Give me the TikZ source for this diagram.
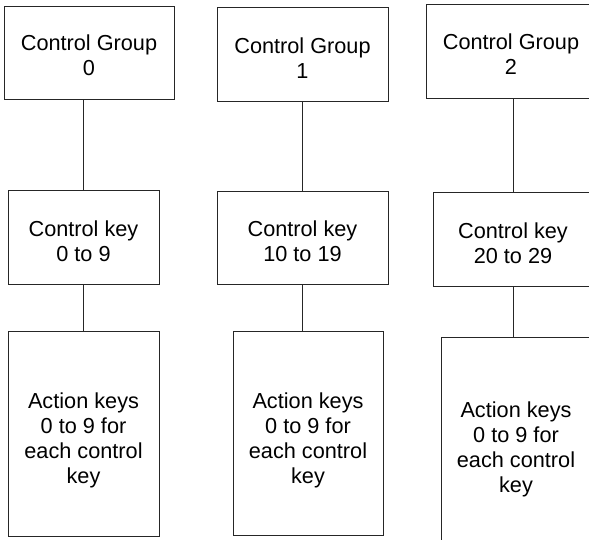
\documentclass[tikz,border=0pt]{standalone}
\usepackage{fontspec}
\setmainfont{Liberation Sans}
\usetikzlibrary{positioning}

\begin{document}
\begin{tikzpicture}[x=1pt,y=-1pt,
  box/.style={draw=black!85,line width=0.9pt,inner sep=0pt},
  txt/.style={inner sep=0pt,align=center,font=\fontsize{21.7}{25}\selectfont},
  link/.style={draw=black!85,line width=0.9pt}]
\fill[white] (0,0) rectangle (589,539);
\useasboundingbox (0,0) rectangle (589,539);
\clip (0,0) rectangle (589,539);
% first column
\node[box,minimum width=170pt,minimum height=93pt,
  label={[txt,yshift=-3pt]center:{Control Group\\0}}] (grp0) at (89,52.5) {};
\node[box,minimum width=151pt,minimum height=94pt,
  label={[txt,yshift=-4pt]center:{Control key\\0 to 9}}] (key0) at (83.5,237) {};
\node[box,minimum width=151pt,minimum height=205pt,
  label={[txt,yshift=-7pt]center:{Action keys\\0 to 9 for\\each control\\key}}] (act0) at (83.5,433.5) {};
% second column
\node[box,minimum width=171pt,minimum height=94pt,
  label={[txt,yshift=-4pt]center:{Control Group\\1}}] (grp1) at (302.5,54) {};
\node[box,minimum width=171pt,minimum height=93pt,
  label={[txt,yshift=-4pt]center:{Control key\\10 to 19}}] (key1) at (302.5,237.5) {};
\node[box,minimum width=150pt,minimum height=204pt,
  label={[txt,yshift=-7pt]center:{Action keys\\0 to 9 for\\each control\\key}}] (act1) at (308,433) {};
% third column, cut at the right edge
\node[box,minimum width=170pt,minimum height=94pt,
  label={[txt,yshift=-3pt]center:{Control Group\\2}}] (grp2) at (511,51) {};
\node[box,minimum width=160pt,minimum height=94pt,
  label={[txt,yshift=-4pt]center:{Control key\\20 to 29}}] (key2) at (513,239) {};
\node[box,minimum width=150pt,minimum height=211pt,
  label={[txt,yshift=-7pt]center:{Action keys\\0 to 9 for\\each control\\key}}] (act2) at (516,442.5) {};
% links
\draw[link] (key0.north |- grp0.south) -- (key0.north);
\draw[link] (key0.south) -- (key0.south |- act0.north);
\draw[link] (key1.north |- grp1.south) -- (key1.north);
\draw[link] (key1.south) -- (key1.south |- act1.north);
\draw[link] (key2.north |- grp2.south) -- (key2.north);
\draw[link] (key2.south) -- (key2.south |- act2.north);
\end{tikzpicture}
\end{document}
